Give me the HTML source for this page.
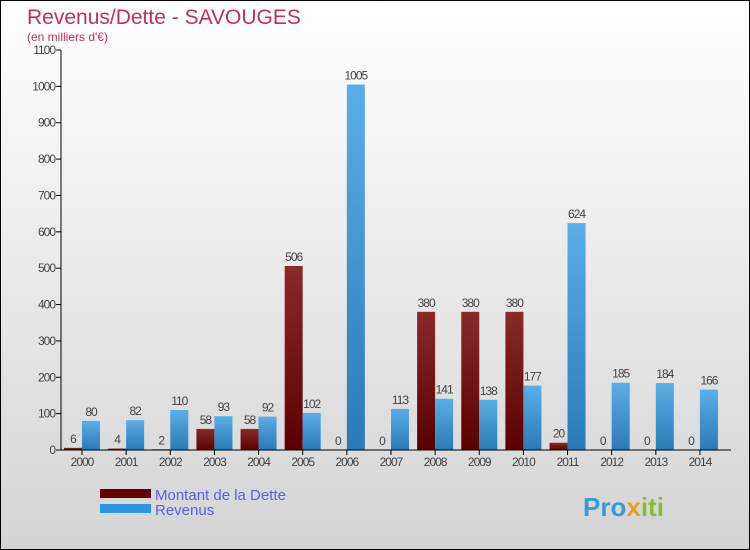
<!DOCTYPE html>
<html><head><meta charset="utf-8"><style>
body{margin:0}
#c{position:relative;width:748px;height:548px;border:1px solid #000;background:linear-gradient(#ffffff,#d4d4d4);font-family:"Liberation Sans",sans-serif;overflow:hidden}
</style></head><body>
<div id="c">
<svg id="s" width="748" height="548">
<defs>
<linearGradient id="gd" x1="0" x2="0" y1="0" y2="1"><stop offset="0" stop-color="#8a2a2a"/><stop offset="1" stop-color="#5a0000"/></linearGradient>
<linearGradient id="gr" x1="0" x2="0" y1="0" y2="1"><stop offset="0" stop-color="#5aaee6"/><stop offset="1" stop-color="#2a7ab8"/></linearGradient>
</defs>
<text x="26" y="23" font-size="21" fill="#c0305a">Revenus/Dette - SAVOUGES</text>
<text x="26" y="40" font-size="12" fill="#c0305a">(en milliers d'€)</text>
<g id="g"></g>
<rect x="99" y="488" width="51" height="9" fill="#660000"/>
<rect x="99" y="503" width="51" height="9" fill="#2e96de"/>
<text x="154" y="499" font-size="15" fill="#5c5cee">Montant de la Dette</text>
<text x="154" y="514" font-size="15" fill="#5c5cee">Revenus</text>
<text x="582" y="515" font-size="26" font-weight="bold" fill="#3a9ad8">Pro<tspan fill="#e8a020">x</tspan><tspan fill="#88bb33">iti</tspan></text>
</svg>
</div>
<script>
const years=["2000","2001","2002","2003","2004","2005","2006","2007","2008","2009","2010","2011","2012","2013","2014"];
const debt=[6,4,2,58,58,506,0,0,380,380,380,20,0,0,0];
const revenue=[80,82,110,93,92,102,1005,113,141,138,177,624,185,184,166];
const yTicks=[0,100,200,300,400,500,600,700,800,900,1000,1100];
const NS="http://www.w3.org/2000/svg";
const g=document.getElementById('g');
const y=v=>449-v*400/1100;
const xc=i=>81+i*44.14;
function mk(t,a){const e=document.createElementNS(NS,t);for(const k in a)e.setAttribute(k,a[k]);g.appendChild(e);return e;}
yTicks.forEach(v=>{
 const l=mk('line',{x1:55,x2:60,y1:y(v),y2:y(v),stroke:'#000'});
 
 
 const t=mk('text',{x:54,y:y(v)+4,'font-size':12,fill:'#444','text-anchor':'end','letter-spacing':'-1'});t.textContent=v;
 
 
});
years.forEach((yr,i)=>{
 const c=xc(i);
 const d=mk('rect',{x:c-18,y:y(debt[i]),width:18,height:449-y(debt[i]),fill:'url(#gd)'});
 
 
 const r=mk('rect',{x:c,y:y(revenue[i]),width:18,height:449-y(revenue[i]),fill:'url(#gr)'});
 
 
 const dt=mk('text',{x:c-9,y:y(debt[i])-5,'font-size':12,fill:'#444','text-anchor':'middle','letter-spacing':'-1'});dt.textContent=debt[i];
 
 
 const rt=mk('text',{x:c+9,y:y(revenue[i])-5,'font-size':12,fill:'#444','text-anchor':'middle','letter-spacing':'-1'});rt.textContent=revenue[i];
 
 
 const tk=mk('line',{x1:c,x2:c,y1:449,y2:454,stroke:'#000'});
 
 
 const xt=mk('text',{x:c,y:465,'font-size':12,fill:'#444','text-anchor':'middle','letter-spacing':'-1'});xt.textContent=yr;
 
 
});
const ax=mk('line',{x1:60,x2:60,y1:49,y2:449,stroke:'#000'});


const bx=mk('line',{x1:60,x2:730,y1:449,y2:449,stroke:'#000'});


</script>
</body></html>
